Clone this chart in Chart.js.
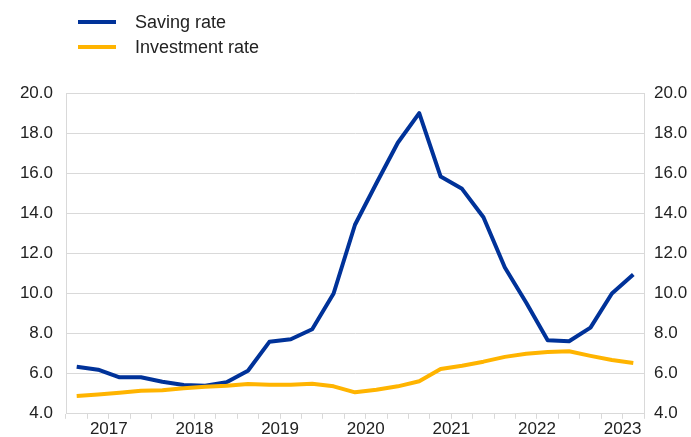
<!DOCTYPE html>
<html>
<head>
<meta charset="utf-8">
<script src="https://cdn.jsdelivr.net/npm/chart.js@4/dist/chart.umd.min.js"></script>
<style>
    body { margin: 0; background: #fff; }
    #wrap { position: relative; width: 691px; height: 437px; }
    #legend { position: absolute; left: 78px; top: 10px; font-family: 'Liberation Sans', Arial, sans-serif; font-size: 18px; color: #222; }
    .item { height: 25px; line-height: 25px; }
    .item span { display: inline-block; width: 38px; height: 4px; vertical-align: middle; margin-right: 19px; margin-top: -3px; }
</style>
</head>
<body>
<div id="wrap">
    <canvas id="myChart" width="691" height="437"></canvas>
    <div id="legend">
        <div class="item"><span style="background:#003299"></span>Saving rate</div>
        <div class="item"><span style="background:#ffb400"></span>Investment rate</div>
    </div>
</div>
<script>
//Кварталы
var quarters = [
    '2017Q1', '2017Q2', '2017Q3', '2017Q4',
    '2018Q1', '2018Q2', '2018Q3', '2018Q4',
    '2019Q1', '2019Q2', '2019Q3', '2019Q4',
    '2020Q1', '2020Q2', '2020Q3', '2020Q4',
    '2021Q1', '2021Q2', '2021Q3', '2021Q4',
    '2022Q1', '2022Q2', '2022Q3', '2022Q4',
    '2023Q1', '2023Q2', '2023Q3'
];

var savingRate = [6.35, 6.2, 5.82, 5.82, 5.6, 5.44, 5.4, 5.57,
    6.15, 7.59, 7.72, 8.22, 10.0, 13.43, 15.5, 17.52,
    19.0, 15.83, 15.22, 13.8, 11.3, 9.54, 7.67, 7.62,
    8.3, 10.0, 10.95];

var investmentRate = [4.89, 4.96, 5.05, 5.15, 5.18, 5.28, 5.35, 5.4,
    5.49, 5.45, 5.45, 5.5, 5.37, 5.07, 5.2, 5.37,
    5.62, 6.23, 6.4, 6.6, 6.84, 7.0, 7.08, 7.12,
    6.89, 6.68, 6.53];

var yTicks = [4, 6, 8, 10, 12, 14, 16, 18, 20];

var font = { family: "'Liberation Sans', Arial, sans-serif", size: 17 };
var gridColor = '#d9d9d9';

function yScale(position) {
    return {
        position: position,
        min: 4,
        max: 20,
        afterBuildTicks: function(axis) {
            axis.ticks = yTicks.map(v => ({ value: v }));
        },
        afterFit: function(axis) {
            axis.width = position == 'left' ? 66 : 47;
        },
        grid: {
            color: gridColor,
            drawTicks: false,
            drawOnChartArea: position == 'left'
        },
        border: { color: gridColor },
        ticks: {
            font: font,
            color: '#222',
            padding: position == 'left' ? 13 : 10,
            callback: v => v.toFixed(1)
        }
    };
}

var ctx = document.getElementById('myChart').getContext('2d');

new Chart(ctx, {
    type: 'line',
    data: {
        labels: quarters,
        datasets: [{
            label: 'Investment rate',
            data: investmentRate,
            borderColor: '#ffb400',
            backgroundColor: '#ffb400',
            borderWidth: 4,
            pointRadius: 0,
            tension: 0,
            borderJoinStyle: 'round'
        }, {
            label: 'Saving rate',
            data: savingRate,
            borderColor: '#003299',
            backgroundColor: '#003299',
            borderWidth: 4,
            pointRadius: 0,
            tension: 0,
            borderJoinStyle: 'round'
        }]
    },
    options: {
        responsive: false,
        animation: false,
        layout: { padding: { top: 93, left: 0, right: 0, bottom: 0 } },
        plugins: {
            legend: { display: false },
            tooltip: { enabled: false }
        },
        scales: {
            x: {
                offset: true,
                afterFit: function(axis) { axis.height = 22; },
                grid: {
                    offset: true,
                    drawOnChartArea: false,
                    color: gridColor,
                    tickLength: 5
                },
                border: { color: gridColor },
                ticks: {
                    autoSkip: false,
                    maxRotation: 0,
                    minRotation: 0,
                    padding: 0,
                    labelOffset: 10.7,
                    font: font,
                    color: '#222',
                    callback: function(v, i) {
                        var q = quarters[i];
                        return q.endsWith('Q2') ? q.slice(0, 4) : '';
                    }
                }
            },
            y: yScale('left'),
            y2: yScale('right')
        }
    }
});
</script>
</body>
</html>
